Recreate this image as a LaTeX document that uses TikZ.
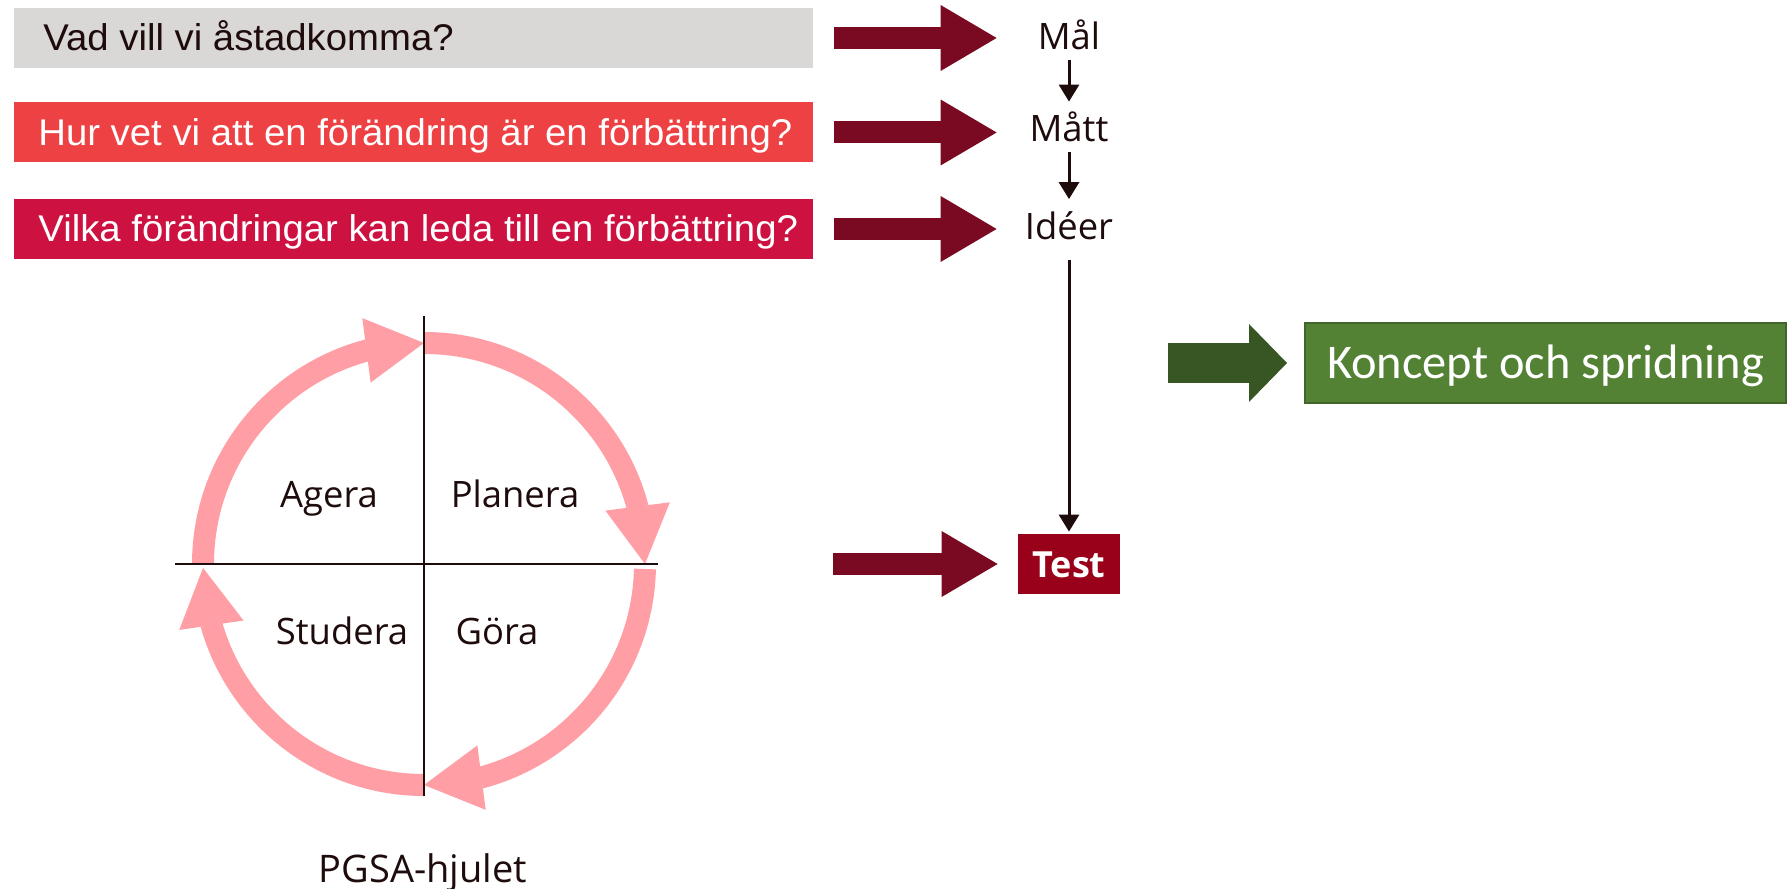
\documentclass[tikz,border=0pt]{standalone}
\usepackage{fontspec}
\setmainfont{Open Sans}
\newfontfamily\boxfont{Liberation Sans}[FakeStretch=1.03]
\newfontfamily\calfont{Carlito}
\usetikzlibrary{arrows.meta,bending}
\definecolor{qgray}{HTML}{D9D8D6}
\definecolor{qred}{HTML}{EE4144}
\definecolor{qcrimson}{HTML}{CD1241}
\definecolor{maroon}{HTML}{7A0A22}
\definecolor{testred}{HTML}{99001A}
\definecolor{wheelpink}{HTML}{FF9FA5}
\definecolor{darkgreen}{HTML}{375623}
\definecolor{leafgreen}{HTML}{548235}
\definecolor{leafedge}{HTML}{41652A}
\definecolor{ink}{HTML}{1E0B0B}
\newcommand{\qtext}[1]{\makebox[375.5pt][l]{#1}}
\tikzset{
  qbox/.style={anchor=west, minimum height=30pt, inner xsep=12pt, inner ysep=0pt, text height=12.8pt, text depth=0pt, font=\boxfont\fontsize{18.6}{20}\selectfont},
  lbl/.style={inner sep=0pt, minimum width=72pt, text height=13pt, text depth=0pt, text=ink, font=\fontsize{18.2}{20}\selectfont},
  phase/.style={inner sep=0pt, text height=13pt, text depth=0pt, text=ink, font=\fontsize{18.2}{20}\selectfont},
  bigarrow/.style={maroon, line width=11pt, -{Triangle[length=28pt,width=33pt,line width=0pt]}},
  greenarrow/.style={darkgreen, line width=20pt, -{Triangle[length=19pt,width=39pt,line width=0pt]}},
  smallarrow/.style={ink, line width=1.5pt, -{Triangle[length=8.5pt,width=10pt]}, shorten <=5pt, shorten >=7pt},
  wheelarrow/.style={wheelpink, line width=11pt, -{Triangle[length=29pt,width=32.5pt,line width=0pt]}},
  axis/.style={ink, line width=1.2pt},
  testbox/.style={fill=testred, text=white, minimum width=51pt, minimum height=30pt, inner sep=0pt, text height=13.5pt, text depth=0pt, font=\bfseries\fontsize{18}{20}\selectfont},
  goalbox/.style={fill=leafgreen, draw=leafedge, line width=1pt, text=white, minimum width=240.5pt, minimum height=40pt, inner sep=0pt, text height=15.6pt, text depth=0pt, font=\calfont\fontsize{24.2}{28}\selectfont}
}
\begin{document}
\begin{tikzpicture}[x=50pt,y=50pt]
\useasboundingbox (0,0) rectangle (17.89,8.89);
\node[qbox, fill=qgray, text=ink] (q1) at (0.14,8.51) {\qtext{\hspace{2.5pt}Vad vill vi åstadkomma?}};
\node[qbox, fill=qred, text=white] (q2) at (0.14,7.565) {\qtext{Hur vet vi att en förändring är en förbättring?}};
\node[qbox, fill=qcrimson, text=white] (q3) at (0.14,6.60) {\qtext{Vilka förändringar kan leda till en förbättring?}};
\node[lbl] (mal) at (10.69,8.525) {Mål};
\node[lbl] (matt) at (10.69,7.60) {Mått};
\node[lbl] (ideer) at (10.69,6.625) {Idéer};
\node[testbox] (test) at (10.69,3.25) {Test};
\node[goalbox] (koncept) at (15.455,5.26) {Koncept och spridning};
\coordinate (tin) at (8.33,3.25);
\coordinate (kin) at (11.68,5.26);
\draw[bigarrow, shorten <=10pt] (q1.east) -- (q1.east -| mal.west);
\draw[bigarrow, shorten <=10pt] (q2.east) -- (q2.east -| matt.west);
\draw[bigarrow, shorten <=10pt] (q3.east) -- (q3.east -| ideer.west);
\draw[bigarrow, shorten >=10pt] (tin) -- (test.west);
\draw[greenarrow, shorten >=8.5pt] (kin) -- (koncept.west);
\draw[smallarrow] (mal) -- (matt);
\draw[smallarrow] (matt) -- (ideer);
\draw[smallarrow, shorten <=10pt, shorten >=1pt] (ideer) -- (test);
\coordinate (hub) at (4.24,3.25);
\draw[wheelarrow] ([shift={(90:2.21)}]hub) arc[start angle=90, end angle=0, radius=2.21];
\draw[wheelarrow] ([shift={(-1.3:2.21)}]hub) arc[start angle=-1.3, end angle=-90, radius=2.21];
\draw[wheelarrow] ([shift={(-90:2.21)}]hub) arc[start angle=-90, end angle=-179, radius=2.21];
\draw[wheelarrow] ([shift={(180:2.21)}]hub) arc[start angle=180, end angle=90, radius=2.21];
\draw[axis] (4.24,5.73) -- (4.24,0.93);
\draw[axis] (1.75,3.25) -- (6.58,3.25);
\node[phase] (agera) at (3.29,3.94) {Agera};
\node[phase] (planera) at (5.15,3.94) {Planera};
\node[phase] (studera) at (3.42,2.575) {Studera};
\node[phase] (gora) at (4.97,2.575) {Göra};
\node[phase, text height=14pt, font=\fontsize{19}{22}\selectfont] (pgsa) at (4.23,0.20) {PGSA-hjulet};
\end{tikzpicture}
\end{document}
